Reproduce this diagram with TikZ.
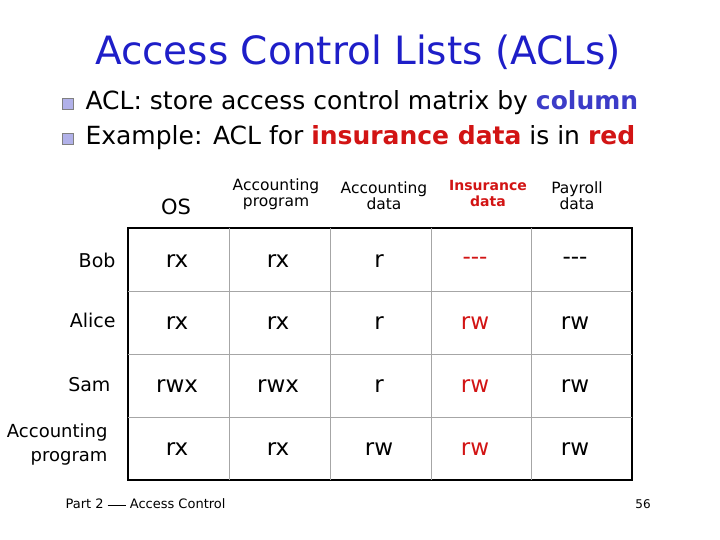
\documentclass[tikz,border=0pt]{standalone}
\usepackage{fontspec}
\setmainfont{DejaVu Sans}
\definecolor{ttl}{RGB}{30,30,200}
\definecolor{rd}{RGB}{210,20,20}
\definecolor{bl}{RGB}{60,60,200}
\begin{document}
\begin{tikzpicture}[x=1pt,y=-1pt,
  cell/.style={font=\fontsize{23}{23}\selectfont,anchor=center},
  hdr/.style={font=\fontsize{15.5}{16}\selectfont,align=center,anchor=center},
  rowl/.style={font=\fontsize{19}{20}\selectfont,align=right,anchor=east},
  bul/.style={draw=gray,fill=bl!40,minimum size=11pt,inner sep=0pt}]
\useasboundingbox (0,0) rectangle (720,540);
\node[text=ttl,font=\fontsize{39}{40}\selectfont] (title) at (358,52) {Access Control Lists (ACLs)};
\node[bul] (b1) at (68,104) {};
\node[anchor=west,font=\fontsize{25}{26}\selectfont] (t1) at (82,103) {ACL: store access control matrix by \textbf{\textcolor{bl}{column}}};
\node[bul] (b2) at (68,139) {};
\node[anchor=west,font=\fontsize{25}{26}\selectfont] (t2) at (82,138) {Example: ACL for \textbf{\textcolor{rd}{insurance data}} is in \textbf{\textcolor{rd}{red}}};
% grid
\draw[line width=1.2pt] (128,228) rectangle (632,480);
\foreach \x in {229,330,431,531} \draw[gray!70,line width=0.6pt] (\x,228) -- (\x,480);
\foreach \y in {291,354,417} \draw[gray!70,line width=0.6pt] (128,\y) -- (632,\y);
% headers
\node[hdr,font=\fontsize{21}{22}\selectfont] (h1) at (176,207) {OS};
\node[hdr] (h2) at (276,194) {Accounting\\program};
\node[hdr] (h3) at (384,196) {Accounting\\data};
\node[hdr,text=rd,font=\bfseries\fontsize{14}{16}\selectfont] (h4) at (488,193) {Insurance\\data};
\node[hdr] (h5) at (577,196) {Payroll\\data};
% row labels
\node[rowl] (r1) at (119,260) {Bob};
\node[rowl] (r2) at (119,320) {Alice};
\node[rowl] (r3) at (114,385) {Sam};
\node[rowl,font=\fontsize{18}{24}\selectfont] (r4) at (111,445) {Accounting\\program};
% cells
\foreach \t [count=\i] in {rx,rx,r} \node[cell] (c1\i) at (76+101*\i,261) {\t};
\node[cell,text=rd] (c14) at (475,261) {-{}-{}-};
\node[cell] (c15) at (575,261) {-{}-{}-};
\foreach \t [count=\i] in {rx,rx,r} \node[cell] (c2\i) at (76+101*\i,323) {\t};
\node[cell,text=rd] (c24) at (475,323) {rw};
\node[cell] (c25) at (575,323) {rw};
\foreach \t [count=\i] in {rwx,rwx,r} \node[cell] (c3\i) at (76+101*\i,386) {\t};
\node[cell,text=rd] (c34) at (475,386) {rw};
\node[cell] (c35) at (575,386) {rw};
\foreach \t [count=\i] in {rx,rx,rw} \node[cell] (c4\i) at (76+101*\i,449) {\t};
\node[cell,text=rd] (c44) at (475,449) {rw};
\node[cell] (c45) at (575,449) {rw};
\node[anchor=west,font=\fontsize{13}{13}\selectfont] (foot) at (62,504) {Part 2 \rule[0.5ex]{18pt}{0.4pt} Access Control};
\node[font=\fontsize{12}{12}\selectfont] (pg) at (643,504) {56};
\end{tikzpicture}
\end{document}
